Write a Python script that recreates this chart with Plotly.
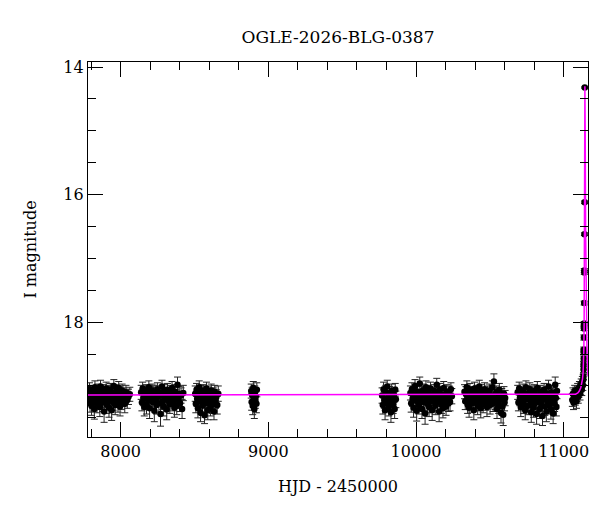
import plotly.graph_objects as go

# ------------------------------------------------------------
# OGLE light curve: I magnitude vs HJD - 2450000
# ------------------------------------------------------------
TITLE = "OGLE-2026-BLG-0387"

# season 1
HJD_S1 = [7784, 7789, 7793, 7798, 7803, 7807, 7812, 7817, 7822, 7826,
          7831, 7836, 7840, 7845, 7850, 7855, 7859, 7864, 7869, 7873,
          7878, 7883, 7888, 7892, 7897, 7902, 7906, 7911, 7916, 7921,
          7925, 7930, 7935, 7939, 7944, 7949, 7954, 7958, 7963, 7968,
          7972, 7977, 7982, 7987, 7991, 7996, 8001, 8005, 8010, 8015,
          8020, 8028, 8036, 8045, 8053, 8062]
MAG_S1 = [19.18, 19.05, 19.27, 19.12, 19.31, 19.09, 19.22, 19.15, 19.36, 19.02,
          19.19, 19.11, 19.28, 19.07, 19.24, 19.14, 19.33, 19.01, 19.20, 19.16,
          19.26, 19.08, 19.40, 19.13, 19.21, 19.04, 19.29, 19.17, 19.10, 19.34,
          19.23, 19.06, 19.19, 19.38, 19.12, 19.25, 19.00, 19.16, 19.30, 19.09,
          19.21, 19.14, 19.27, 19.03, 19.18, 19.32, 19.11, 19.24, 19.07, 19.20,
          19.15, 19.28, 19.10, 19.22, 19.17, 19.13]
ERR_S1 = [0.12, 0.10, 0.14, 0.11, 0.15, 0.10, 0.13, 0.12, 0.16, 0.10,
          0.12, 0.11, 0.14, 0.10, 0.13, 0.12, 0.15, 0.10, 0.13, 0.11,
          0.14, 0.10, 0.17, 0.12, 0.13, 0.10, 0.14, 0.12, 0.11, 0.15,
          0.13, 0.10, 0.12, 0.16, 0.11, 0.13, 0.10, 0.12, 0.15, 0.11,
          0.13, 0.12, 0.14, 0.10, 0.12, 0.15, 0.11, 0.13, 0.10, 0.12,
          0.12, 0.14, 0.11, 0.13, 0.12, 0.11]

# season 2
HJD_S2 = [8139, 8144, 8149, 8154, 8160, 8165, 8170, 8175, 8180, 8186,
          8191, 8196, 8201, 8207, 8212, 8217, 8222, 8228, 8233, 8238,
          8243, 8249, 8254, 8259, 8264, 8270, 8275, 8280, 8285, 8291,
          8296, 8301, 8306, 8312, 8317, 8322, 8327, 8333, 8338, 8343,
          8348, 8354, 8359, 8364, 8369, 8375, 8380, 8385, 8390, 8396,
          8402, 8409, 8416, 8424]
MAG_S2 = [19.10, 19.26, 19.04, 19.19, 19.33, 19.13, 19.08, 19.29, 19.16, 19.22,
          19.02, 19.35, 19.12, 19.18, 19.07, 19.25, 19.14, 19.39, 19.09, 19.21,
          19.30, 19.05, 19.17, 19.27, 19.11, 19.44, 19.15, 19.01, 19.24, 19.32,
          19.08, 19.19, 19.13, 19.37, 19.06, 19.23, 19.16, 19.29, 19.10, 19.20,
          19.03, 19.26, 19.14, 19.34, 19.09, 19.18, 19.31, 18.98, 19.22, 19.12,
          19.27, 19.15, 19.36, 19.11]
ERR_S2 = [0.11, 0.13, 0.10, 0.12, 0.14, 0.11, 0.10, 0.15, 0.12, 0.13,
          0.10, 0.16, 0.11, 0.12, 0.10, 0.13, 0.12, 0.17, 0.10, 0.12,
          0.14, 0.10, 0.12, 0.14, 0.11, 0.19, 0.12, 0.10, 0.13, 0.15,
          0.10, 0.12, 0.11, 0.16, 0.10, 0.13, 0.12, 0.14, 0.11, 0.12,
          0.10, 0.13, 0.12, 0.15, 0.11, 0.12, 0.14, 0.12, 0.13, 0.11,
          0.13, 0.12, 0.15, 0.12]

# season 3
HJD_S3 = [8505, 8509, 8514, 8518, 8523, 8527, 8532, 8536, 8541, 8545,
          8550, 8554, 8559, 8563, 8568, 8572, 8577, 8581, 8586, 8590,
          8595, 8599, 8604, 8608, 8613, 8617, 8622, 8627, 8632, 8637,
          8642, 8648, 8654, 8661]
MAG_S3 = [19.12, 19.28, 19.06, 19.20, 19.35, 19.15, 19.02, 19.24, 19.42, 19.10,
          19.18, 19.31, 19.08, 19.22, 19.46, 19.13, 19.27, 19.04, 19.19, 19.38,
          19.11, 19.25, 19.16, 19.33, 19.07, 19.21, 19.29, 19.14, 19.40, 19.09,
          19.23, 19.17, 19.30, 19.12]
ERR_S3 = [0.12, 0.14, 0.10, 0.12, 0.15, 0.11, 0.10, 0.13, 0.14, 0.11,
          0.12, 0.15, 0.10, 0.12, 0.13, 0.11, 0.14, 0.10, 0.12, 0.15,
          0.11, 0.13, 0.12, 0.14, 0.10, 0.12, 0.14, 0.11, 0.13, 0.10,
          0.12, 0.11, 0.14, 0.12]

# season 4
HJD_S4 = [8884, 8887, 8891, 8894, 8898, 8901, 8905, 8908, 8912, 8915, 8919, 8922]
MAG_S4 = [19.08, 19.25, 19.14, 19.31, 19.03, 19.19, 19.36, 19.11, 19.22, 19.16, 19.28, 19.06]
ERR_S4 = [0.11, 0.13, 0.12, 0.14, 0.10, 0.12, 0.15, 0.11, 0.13, 0.12, 0.14, 0.11]

# season 5
HJD_S5 = [9770, 9775, 9780, 9785, 9790, 9795, 9800, 9805, 9810, 9815,
          9820, 9825, 9830, 9835, 9840, 9845, 9850, 9855, 9859, 9863]
MAG_S5 = [19.15, 19.30, 19.05, 19.22, 19.38, 19.10, 19.26, 19.01, 19.19, 19.33,
          19.12, 19.24, 19.41, 19.08, 19.20, 19.29, 19.14, 19.36, 19.06, 19.21]
ERR_S5 = [0.12, 0.14, 0.11, 0.13, 0.15, 0.11, 0.13, 0.10, 0.12, 0.14,
          0.11, 0.13, 0.16, 0.11, 0.12, 0.14, 0.12, 0.15, 0.10, 0.13]

# season 6
HJD_S6 = [9962, 9967, 9972, 9977, 9983, 9988, 9993, 9998, 10004, 10009,
          10014, 10019, 10025, 10030, 10035, 10040, 10046, 10051, 10056, 10061,
          10067, 10072, 10077, 10082, 10088, 10093, 10098, 10103, 10109, 10114,
          10119, 10124, 10130, 10135, 10140, 10145, 10151, 10156, 10161, 10166,
          10172, 10177, 10182, 10187, 10193, 10198, 10203, 10208, 10214, 10219,
          10224, 10230, 10236, 10242]
MAG_S6 = [19.11, 19.27, 19.05, 19.20, 19.34, 19.14, 19.00, 19.23, 19.39, 19.09,
          19.17, 19.30, 18.96, 19.21, 19.12, 19.36, 19.07, 19.25, 19.15, 19.43,
          19.02, 19.19, 19.28, 19.10, 19.33, 19.16, 19.04, 19.24, 19.38, 19.13,
          19.22, 19.08, 19.31, 19.18, 18.98, 19.26, 19.12, 19.40, 19.06, 19.20,
          19.29, 19.14, 19.35, 19.03, 19.23, 19.17, 19.32, 19.09, 19.19, 19.27,
          19.11, 19.25, 19.05, 19.16]
ERR_S6 = [0.11, 0.14, 0.10, 0.12, 0.15, 0.11, 0.10, 0.13, 0.16, 0.11,
          0.12, 0.14, 0.10, 0.13, 0.11, 0.15, 0.10, 0.13, 0.12, 0.17,
          0.10, 0.12, 0.14, 0.11, 0.15, 0.12, 0.10, 0.13, 0.16, 0.11,
          0.12, 0.10, 0.14, 0.12, 0.10, 0.13, 0.11, 0.16, 0.10, 0.12,
          0.14, 0.11, 0.15, 0.10, 0.13, 0.12, 0.14, 0.11, 0.12, 0.13,
          0.11, 0.14, 0.10, 0.12]

# season 7
HJD_S7 = [10328, 10333, 10338, 10344, 10349, 10354, 10359, 10365, 10370, 10375,
          10380, 10386, 10391, 10396, 10401, 10407, 10412, 10417, 10422, 10428,
          10433, 10438, 10443, 10449, 10454, 10459, 10464, 10470, 10475, 10480,
          10485, 10491, 10496, 10501, 10506, 10512, 10517, 10522, 10527, 10533,
          10538, 10543, 10548, 10554, 10559, 10564, 10569, 10575, 10580, 10585,
          10590, 10595, 10599, 10603]
MAG_S7 = [19.09, 19.24, 19.13, 19.02, 19.29, 19.17, 19.34, 19.06, 19.21, 19.12,
          19.27, 19.15, 19.38, 19.04, 19.19, 19.26, 19.10, 19.31, 19.16, 19.01,
          19.22, 19.35, 19.08, 19.18, 19.28, 19.13, 19.05, 19.25, 19.19, 19.33,
          19.11, 19.23, 19.07, 19.30, 19.16, 19.20, 19.02, 19.27, 18.93, 19.14,
          19.24, 19.10, 19.36, 19.18, 19.29, 19.06, 19.21, 19.42, 19.15, 19.32,
          19.45, 19.12, 19.26, 19.19]
ERR_S7 = [0.11, 0.13, 0.12, 0.10, 0.14, 0.11, 0.15, 0.10, 0.12, 0.11,
          0.14, 0.12, 0.15, 0.10, 0.12, 0.13, 0.11, 0.14, 0.12, 0.10,
          0.12, 0.15, 0.10, 0.12, 0.14, 0.11, 0.10, 0.13, 0.12, 0.15,
          0.11, 0.13, 0.10, 0.14, 0.12, 0.12, 0.10, 0.13, 0.12, 0.11,
          0.13, 0.10, 0.15, 0.12, 0.14, 0.10, 0.12, 0.16, 0.11, 0.14,
          0.17, 0.11, 0.13, 0.12]

# season 8
HJD_S8 = [10688, 10693, 10698, 10703, 10709, 10714, 10719, 10724, 10729, 10734,
          10739, 10744, 10749, 10754, 10760, 10765, 10770, 10775, 10780, 10785,
          10790, 10795, 10800, 10805, 10811, 10816, 10821, 10826, 10831, 10836,
          10841, 10846, 10851, 10856, 10862, 10867, 10872, 10877, 10882, 10887,
          10892, 10897, 10902, 10907, 10913, 10918, 10923, 10928, 10933, 10938,
          10942, 10946, 10950, 10954]
MAG_S8 = [19.10, 19.26, 19.04, 19.19, 19.33, 19.13, 19.22, 19.07, 19.29, 19.16,
          19.38, 19.02, 19.21, 19.12, 19.31, 19.18, 19.05, 19.25, 19.41, 19.11,
          19.20, 19.34, 19.08, 19.27, 19.15, 19.44, 19.03, 19.23, 19.17, 19.36,
          19.09, 19.28, 19.14, 19.47, 19.21, 19.06, 19.32, 19.18, 19.40, 19.12,
          19.25, 19.01, 19.30, 19.16, 19.37, 19.10, 19.22, 19.43, 19.13, 19.27,
          18.98, 19.19, 19.33, 19.08]
ERR_S8 = [0.11, 0.13, 0.10, 0.12, 0.15, 0.11, 0.12, 0.10, 0.14, 0.12,
          0.15, 0.10, 0.12, 0.11, 0.14, 0.12, 0.10, 0.13, 0.16, 0.11,
          0.12, 0.15, 0.10, 0.13, 0.12, 0.16, 0.10, 0.12, 0.11, 0.15,
          0.10, 0.13, 0.12, 0.15, 0.12, 0.10, 0.14, 0.11, 0.16, 0.11,
          0.13, 0.10, 0.14, 0.12, 0.15, 0.11, 0.12, 0.16, 0.11, 0.13,
          0.12, 0.11, 0.14, 0.12]

# season 9 (event)
HJD_S9 = [11058, 11062, 11066, 11070, 11074, 11078, 11082, 11086, 11090, 11094,
          11098, 11102, 11106, 11110, 11114, 11118, 11122, 11126, 11129, 11132,
          11133, 11134, 11134, 11135, 11135, 11136, 11136, 11137, 11137, 11138,
          11138, 11139, 11139, 11140, 11141, 11142]
MAG_S9 = [19.22, 19.12, 19.26, 19.16, 19.08, 19.20, 19.11, 19.24, 19.14, 19.05,
          19.17, 19.09, 19.02, 19.12, 19.04, 18.97, 19.06, 18.93, 18.99, 18.90,
          18.85, 18.74, 18.66, 18.57, 18.46, 18.43, 18.24, 18.10, 18.06, 18.02,
          17.70, 17.19, 17.22, 16.62, 16.12, 14.32]
ERR_S9 = [0.10, 0.09, 0.11, 0.10, 0.09, 0.10, 0.09, 0.11, 0.10, 0.09,
          0.10, 0.09, 0.09, 0.10, 0.09, 0.08, 0.09, 0.08, 0.08, 0.08,
          0.05, 0.05, 0.04, 0.04, 0.04, 0.04, 0.04, 0.03, 0.03, 0.03,
          0.03, 0.03, 0.03, 0.02, 0.02, 0.01]

# microlensing model curve (magenta)
MODEL_HJD = [7779, 11060, 11080, 11095, 11105, 11115, 11122, 11127, 11131, 11134,
             11136, 11138, 11140, 11141, 11142, 11143, 11145, 11148, 11152, 11157, 11164]
MODEL_MAG = [19.14, 19.14, 19.13, 19.11, 19.08, 19.03, 18.97, 18.89, 18.78, 18.62,
             18.40, 17.95, 17.10, 16.10, 14.90, 14.30, 15.00, 16.60, 17.80, 18.45, 18.85]

hjd = HJD_S1 + HJD_S2 + HJD_S3 + HJD_S4 + HJD_S5 + HJD_S6 + HJD_S7 + HJD_S8 + HJD_S9
mag = MAG_S1 + MAG_S2 + MAG_S3 + MAG_S4 + MAG_S5 + MAG_S6 + MAG_S7 + MAG_S8 + MAG_S9
err = ERR_S1 + ERR_S2 + ERR_S3 + ERR_S4 + ERR_S5 + ERR_S6 + ERR_S7 + ERR_S8 + ERR_S9

FONT = "DejaVu Serif"

fig = go.Figure()

fig.add_trace(go.Scatter(
    x=hjd, y=mag,
    mode='markers',
    marker=dict(size=6.5, color='black', line=dict(width=0)),
    error_y=dict(type='data', array=err, visible=True,
                 color='#222222', thickness=1, width=3.5),
    showlegend=False, hoverinfo='x+y'
))

fig.add_trace(go.Scatter(
    x=MODEL_HJD, y=MODEL_MAG,
    mode='lines',
    line=dict(color='#ff00ff', width=1.5),
    showlegend=False
))

axis_common = dict(
    showline=True, linecolor='black', linewidth=1.2, mirror='allticks',
    ticks='inside', ticklen=15, tickwidth=1, tickcolor='black',
    showgrid=False, zeroline=False, automargin=False,
    tickfont=dict(family=FONT, size=16, color='black'),
)

fig.update_xaxes(
    range=[7779, 11164], dtick=1000, tick0=8000, tickformat='d',
    minor=dict(ticks='inside', ticklen=8, dtick=200, tick0=8000,
               tickcolor='black', showgrid=False),
    title=dict(text="HJD - 2450000", font=dict(family=FONT, size=16, color='black'),
               standoff=20),
    **axis_common
)
fig.update_yaxes(
    range=[19.80, 13.92], dtick=2, tick0=14,
    minor=dict(ticks='inside', ticklen=8, dtick=0.5, tick0=14,
               tickcolor='black', showgrid=False),
    title=dict(text="I magnitude", font=dict(family=FONT, size=16, color='black'),
               standoff=22),
    **axis_common
)

fig.update_layout(
    width=600, height=512,
    title=dict(text=TITLE, x=0.5, xref='paper', y=1 - 37 / 512, yanchor='middle',
               font=dict(family=FONT, size=17, color='black')),
    margin=dict(l=88, r=12, t=62, b=75),
    plot_bgcolor='white', paper_bgcolor='white',
)

# page body has a default 8px margin; drop it so the figure sits at the origin
fig.write_html("out.html",
               config={'displayModeBar': False},
               post_script="document.body.style.margin='0';"
                           "document.body.style.overflow='hidden';")
